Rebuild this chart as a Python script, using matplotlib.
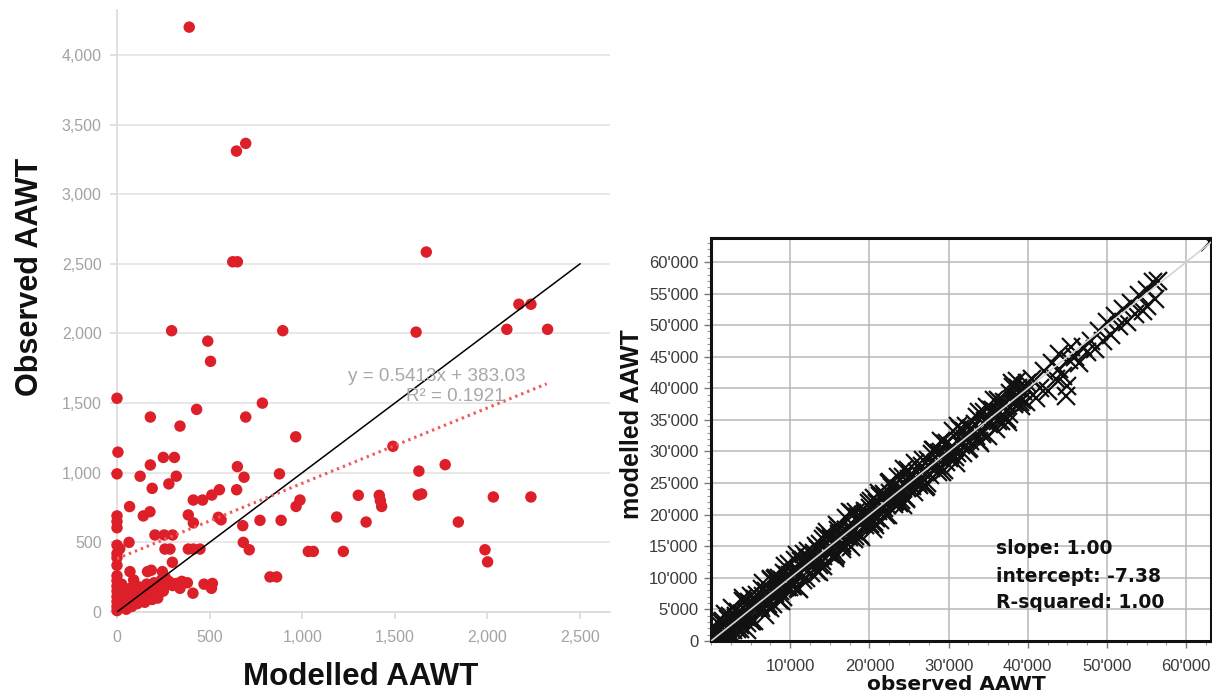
import matplotlib
matplotlib.use("Agg")
import matplotlib.pyplot as plt
from matplotlib.ticker import FuncFormatter, MultipleLocator

# ---------------- Left chart data (Modelled vs Observed AAWT) ----------------
modelled = [390, 645, 695, 625, 650, 1670,
            295, 895, 1615, 490, 505, 2170, 2235, 2105, 2325,
            0, 180, 340, 430, 785, 695, 965, 1490,
            5, 0, 125, 180, 250, 310, 280, 320, 190,
            650, 686, 877, 1630, 1772,
            646, 512, 553, 412, 462,
            1303, 1416, 1422, 1429, 1627, 1645, 2032, 2235,
            967, 988, 68, 142, 178, 385, 412, 562, 547,
            772, 886, 1186, 1345, 1843, 679, 682, 714,
            0, 0, 0, 0, 15, 65,
            205, 255, 300, 259, 286, 299, 385, 412, 448,
            1987, 2001, 1033, 1060, 1222, 826, 862,
            0, 0, 0, 70, 165, 185, 245,
            0, 0, 0, 0, 0, 0, 0, 0, 10, 20, 25, 30, 40, 50, 60, 70, 80, 90,
            100, 110, 120, 130, 140, 150, 160, 170, 180, 190, 200, 210, 220,
            230, 240, 250, 260, 270, 280, 300, 320, 340, 350, 380, 410, 470,
            510, 515]
observed = [4200, 3310, 3365, 2515, 2515, 2585,
            2020, 2020, 2010, 1945, 1800, 2210, 2210, 2030, 2030,
            1535, 1400, 1335, 1455, 1500, 1400, 1258, 1190,
            1148, 992, 975, 1056, 1110, 1110, 920, 975, 888,
            1044, 968, 992, 1012, 1058,
            878, 840, 878, 804, 804,
            838, 838, 800, 758, 840, 848, 826, 826,
            758, 804, 757, 690, 720, 697, 640, 662, 680,
            658, 658, 682, 646, 646, 620, 500, 447,
            690, 650, 605, 480, 455, 500,
            553, 553, 553, 452, 452, 357, 452, 452, 452,
            447, 360, 435, 435, 435, 252, 252,
            420, 390, 335, 290, 290, 300, 290,
            10, 40, 75, 110, 150, 185, 225, 260, 30, 120, 200, 60, 150, 20, 90, 170, 40, 230,
            120, 60, 180, 100, 150, 70, 200, 120, 160, 90, 210, 140, 100,
            180, 230, 150, 250, 200, 220, 190, 205, 170, 220, 210, 135, 200,
            170, 205]
trend_slope = 0.5413
trend_intercept = 383.03
trend_x = [0, 2320]
identity_x = [0, 2500]
left_yticks = [0, 500, 1000, 1500, 2000, 2500, 3000, 3500, 4000]
left_xticks = [0, 500, 1000, 1500, 2000, 2500]

# ---------------- Right chart data (observed vs modelled AAWT) ----------------
observed_aawt = [
    200, 600, 1000, 1400, 1800, 2200, 2600, 3000, 3400, 3800, 4200, 4600, 5000, 5400, 5800,
    6200, 6600, 7000, 7400, 7800, 8200, 8600, 9000, 9400, 9800, 10200, 10600, 11000, 11400,
    11800, 12200, 12600, 13000, 13400, 13800, 14200, 14600, 15000, 15400, 15800, 16200, 16600,
    17000, 17400, 17800, 18200, 18600, 19000, 19400, 19800, 20200, 20600, 21000, 21400, 21800,
    22200, 22600, 23000, 23400, 23800, 24200, 24600, 25000, 25400, 25800, 26200, 26600, 27000,
    27400, 27800, 28200, 28600, 29000, 29400, 29800, 30200, 30600, 31000, 31400, 31800, 32200,
    32600, 33000, 33400, 33800, 34200, 34600, 35000, 35400, 35800, 36200, 36600, 37000, 37400,
    37800, 38200, 38600, 39000, 39400, 39800,
    400, 800, 1200, 1600, 2000, 2400, 2800, 3200, 3600, 4000, 4400, 4800, 5200, 5600, 6000,
    6400, 6800, 7200, 7600, 8000, 8400, 8800, 9200, 9600, 10000, 10400, 10800, 11200, 11600,
    12000, 12400, 12800, 13200, 13600, 14000, 14400, 14800, 15200, 15600, 16000, 16400, 16800,
    17200, 17600, 18000, 18400, 18800, 19200, 19600, 20000, 20400, 20800, 21200, 21600, 22000,
    22400, 22800, 23200, 23600, 24000, 24400, 24800, 25200, 25600, 26000, 26400, 26800, 27200,
    27600, 28000, 28400, 28800, 29200, 29600, 30000, 30400, 30800, 31200, 31600, 32000, 32400,
    32800, 33200, 33600, 34000, 34400, 34800, 35200, 35600, 36000, 36400, 36800, 37200, 37600,
    38000, 38400, 38800, 39200, 39600, 40000,
    100, 600, 1100, 1600, 2100, 2600, 3100, 3600, 4100, 4600, 5100, 5600, 6100, 6600, 7100,
    7600, 8100, 8600, 9100, 9600, 10100, 10600, 11100, 11600, 12100, 12600, 13100, 13600,
    14100, 14600, 15100, 15600, 16100, 16600, 17100, 17600, 18100, 18600, 19100, 19600, 20100,
    20600, 21100, 21600, 22100, 22600, 23100, 23600, 24100, 24600, 25100,
    300, 900, 1500, 2100, 2700, 3300, 3900, 4500, 5100, 5700, 6300, 6900, 7500, 8100, 8700,
    9300, 9900, 10500, 11100, 11700, 12300, 12900, 13500, 14100, 14700, 15300, 15900, 16500,
    17100, 17700, 18300, 18900, 19500, 20100, 20700, 21300, 21900, 22500, 23100, 23700, 24300,
    24900, 25500, 26100, 26700, 27300, 27900, 28500, 29100, 29700, 30300, 30900, 31500, 32100,
    32700, 33300, 33900, 34500, 35100, 35700, 36300, 36900, 37500, 38100, 38700, 39300, 39900,
    40500, 41000, 41500, 42000, 42500, 43000, 43500, 44000, 44000, 44500, 44800, 45000, 45200,
    45500, 46000, 46500, 47000, 47500, 48000, 48500, 49000, 49500, 50000, 50500, 51000, 51500,
    52000, 52500, 53000, 53500, 54000, 54500, 55000, 55000, 55800, 56000, 56500, 63000]
modelled_aawt = [
    2000, 150, 1600, 500, 4200, 700, 2900, 400, 4600, 3400, 6200, 2800, 5900, 3100, 7300,
    5500, 9200, 5800, 7500, 5800, 10000, 6500, 9600, 8500, 12200, 8700, 10900, 8400, 12600,
    11400, 14200, 10800, 13900, 11100, 15300, 13500, 17200, 13800, 15500, 13800, 18000, 14500,
    17600, 16500, 20200, 16700, 18900, 16400, 20600, 19400, 22200, 18800, 21900, 19100, 23300,
    21500, 25200, 21800, 23500, 21800, 26000, 22500, 25600, 24500, 28200, 24700, 26900, 24400,
    28600, 27400, 30200, 26800, 29900, 27100, 31300, 29500, 33200, 29800, 31500, 29800, 34000,
    30500, 33600, 32500, 36200, 32700, 34900, 32400, 36600, 35400, 38200, 34800, 37900, 35100,
    39300, 37500, 41200, 37800, 39500, 37800,
    100, 3000, 900, 2600, 200, 4000, 1800, 3600, 1900, 6800, 3800, 6100, 3200, 6300, 5800,
    8300, 4100, 5900, 9800, 7700, 9400, 6400, 10800, 8600, 10400, 8700, 13600, 10600, 12900,
    10000, 13100, 12600, 15100, 10900, 12700, 16600, 14500, 16200, 13200, 17600, 15400, 17200,
    15500, 20400, 17400, 19700, 16800, 19900, 19400, 21900, 17700, 19500, 23400, 21300, 23000,
    20000, 24400, 22200, 24000, 22300, 27200, 24200, 26500, 23600, 26700, 26200, 28700, 24500,
    26300, 30200, 28100, 29800, 26800, 31200, 29000, 30800, 29100, 34000, 31000, 33300, 30400,
    33500, 33000, 35500, 31300, 33100, 37000, 34900, 36600, 33600, 38000, 35800, 37600, 35900,
    40800, 37800, 40100, 37200, 40300, 39800,
    600, 100, 3200, 1100, 3500, 400, 3900, 2500, 6400, 4600, 3200, 6700, 5800, 7100, 5500,
    9700, 7600, 10000, 6900, 10400, 9000, 12900, 11100, 9700, 13200, 12300, 13600, 12000,
    16200, 14100, 16500, 13400, 16900, 15500, 19400, 17600, 16200, 19700, 18800, 20100, 18500,
    22700, 20600, 23000, 19900, 23400, 22000, 25900, 24100, 22700, 26200,
    1300, 100, 3200, 1300, 5200, 1900, 4300, 1700, 7200, 5600, 5200, 7900, 5200, 9800, 7900,
    11800, 8500, 10900, 8300, 13800, 12200, 11800, 14500, 11800, 16400, 14500, 18400, 15100,
    17500, 14900, 20400, 18800, 18400, 21100, 18400, 23000, 21100, 25000, 21700, 24100, 21500,
    27000, 25400, 25000, 27700, 25000, 29600, 27700, 31600, 28300, 30700, 28100, 33600, 32000,
    31600, 34300, 31600, 36200, 34300, 38200, 34900, 37300, 34700, 40200, 38600, 38200, 40900,
    41500, 38500, 40000, 42800, 39500, 44000, 41500, 45500, 43000, 42000, 38800, 40300, 44500,
    46500, 45000, 44000, 46500, 45800, 47500, 46300, 49000, 47500, 50500, 48500, 51500, 49800,
    52500, 50500, 53500, 51800, 54800, 52300, 55500, 53000, 56800, 54200, 57000, 63200]
fit_slope = 1.00
fit_intercept = -7.38
fit_x = [0, 64000]
right_yticks = [0, 5000, 10000, 15000, 20000, 25000, 30000, 35000, 40000, 45000, 50000, 55000, 60000]
right_xticks = [10000, 20000, 30000, 40000, 50000, 60000]

W, H = 1212, 700
fig = plt.figure(figsize=(W / 100, H / 100), dpi=100)
fig.patch.set_facecolor("white")

# ======================= Left chart =======================
L0, R0, B0, T0 = 117, 610, 612, 10
axL = fig.add_axes([L0 / W, 1 - B0 / H, (R0 - L0) / W, (B0 - T0) / H])
axL.set_xlim(0, 2662)
axL.set_ylim(0, 4323)
axL.yaxis.grid(True, color="#e4e4e4", lw=1.2)
axL.set_axisbelow(True)
for s in ["top", "right"]:
    axL.spines[s].set_visible(False)
for s in ["left", "bottom"]:
    axL.spines[s].set_color("#dadada")
    axL.spines[s].set_linewidth(1.2)
axL.set_xticks(left_xticks)
axL.set_yticks(left_yticks)
fmt = FuncFormatter(lambda v, p: f"{int(v):,}")
axL.xaxis.set_major_formatter(fmt)
axL.yaxis.set_major_formatter(fmt)
axL.tick_params(axis="both", colors="#dadada", labelcolor="#a3a3a3", labelsize=11.5,
                length=5, width=1.2)
axL.tick_params(axis="x", pad=8)
axL.tick_params(axis="y", pad=6)
for lab in axL.get_xticklabels() + axL.get_yticklabels():
    lab.set_fontfamily("Liberation Sans")

axL.scatter(modelled, observed, s=68, color="#dc1f28", edgecolors="none",
            clip_on=False, zorder=3)
axL.plot(identity_x, identity_x, color="black", lw=1.1, zorder=4)
trend_y = [trend_slope * v + trend_intercept for v in trend_x]
axL.plot(trend_x, trend_y, color="#f05a5a", lw=2.2, ls=(0, (0.8, 1.3)), zorder=4)

axL.text(1728, 1690, "y = 0.5413x + 383.03", ha="center", va="center",
         fontsize=13.6, color="#a8a8a8", family="Liberation Sans", zorder=5)
axL.text(1825, 1545, "R² = 0.1921", ha="center", va="center",
         fontsize=13.6, color="#a8a8a8", family="Liberation Sans", zorder=5)

fig.text(361 / W, 1 - 677 / H, "Modelled AAWT", ha="center", va="center",
         fontsize=22.5, fontweight="bold", family="Liberation Sans", color="#111111")
fig.text(30 / W, 1 - 277 / H, "Observed AAWT", ha="center", va="center", rotation=90,
         fontsize=22, fontweight="bold", family="Liberation Sans", color="#111111")

# ======================= Right chart =======================
L1, R1, B1, T1 = 711, 1211, 641, 238
axR = fig.add_axes([L1 / W, 1 - B1 / H, (R1 - L1) / W, (B1 - T1) / H])
axR.set_xlim(0, (R1 - L1) / 7.92 * 1000)
axR.set_ylim(0, (B1 - T1) / 6.317 * 1000)
axR.set_xticks(right_xticks)
axR.set_yticks(right_yticks)
axR.xaxis.set_minor_locator(MultipleLocator(2500))
axR.yaxis.set_minor_locator(MultipleLocator(1000))
rfmt = FuncFormatter(lambda v, p: "0" if v == 0 else f"{int(v // 1000)}'000")
axR.xaxis.set_major_formatter(rfmt)
axR.yaxis.set_major_formatter(rfmt)
axR.grid(True, which="major", color="#b8b8b8", lw=1.1)
axR.set_axisbelow(True)
for s in axR.spines.values():
    s.set_color("#111111")
    s.set_linewidth(2.2)
axR.tick_params(axis="both", which="major", length=5, width=1, colors="#777777",
                labelcolor="#3a3a3a", labelsize=12)
axR.tick_params(axis="both", which="minor", length=3, width=0.8, colors="#999999")
axR.tick_params(axis="x", pad=8)
axR.tick_params(axis="y", pad=4)
for lab in axR.get_xticklabels() + axR.get_yticklabels():
    lab.set_fontfamily("Liberation Sans")

axR.plot(observed_aawt, modelled_aawt, ls="none", marker="x", ms=13.5, mew=1.6,
         color="#111111", zorder=3, clip_on=True)
fit_y = [fit_slope * v + fit_intercept for v in fit_x]
axR.plot(fit_x, fit_y, color="#d4d4d4", lw=1.2, zorder=4)

fig.text(956 / W, 1 - 685 / H, "observed AAWT", ha="center", va="center",
         fontsize=14.5, fontweight="bold", family="DejaVu Sans", color="#111111")
fig.text(632 / W, 1 - 424 / H, "modelled AAWT", ha="center", va="center", rotation=90,
         fontsize=18, fontweight="bold", family="Liberation Sans", color="#111111")

for txt, ypx in [("slope: 1.00", 548), ("intercept: -7.38", 576), ("R-squared: 1.00", 603)]:
    fig.text(996 / W, 1 - ypx / H, txt, ha="left", va="center", fontsize=13.5,
             fontweight="bold", family="DejaVu Sans", color="#111111")

fig.savefig("out.png", dpi=100, facecolor="white")
